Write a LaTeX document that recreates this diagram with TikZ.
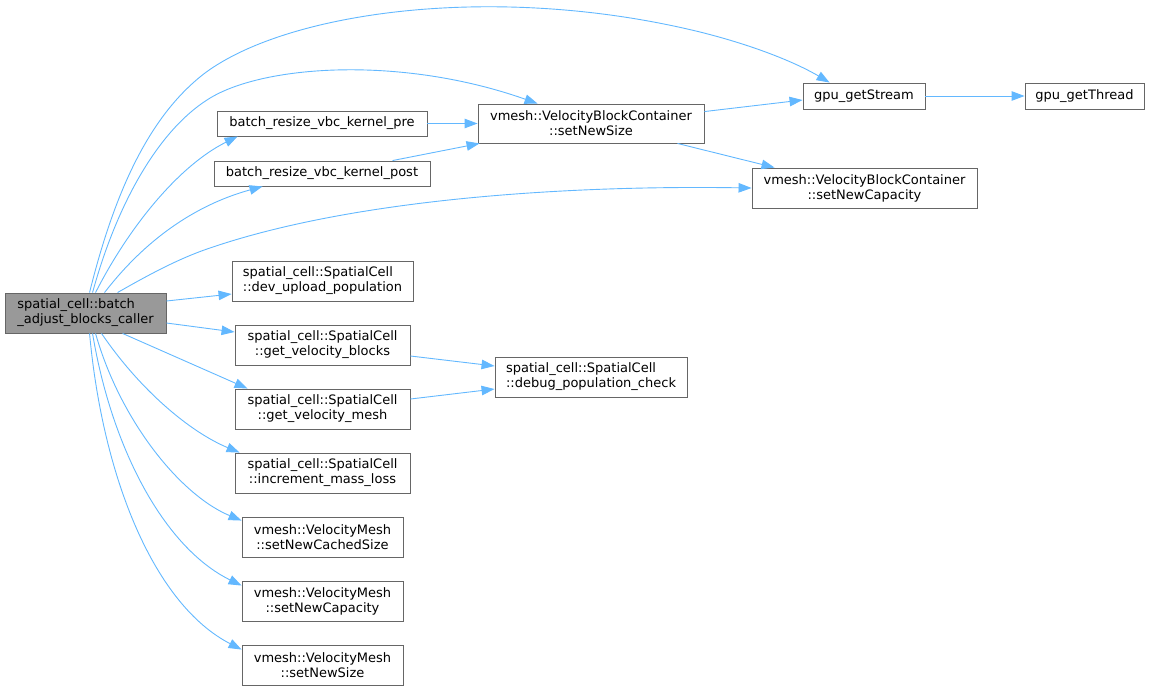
\documentclass[tikz,border=0pt]{standalone}
\usepackage{fontspec}
\setmainfont{DejaVu Sans}
\usetikzlibrary{arrows.meta}
\definecolor{edgeblue}{HTML}{63B8FF}
\definecolor{boxgray}{HTML}{666666}
\definecolor{mainfill}{HTML}{999999}
\tikzset{
  fn/.style={draw=boxgray, line width=0.9pt, fill=white, inner sep=0pt, align=center,
    font=\fontsize{13}{15}\selectfont, text=black},
  fnl/.style={fn, align=left},
  mainfn/.style={fnl, fill=mainfill},
  call/.style={draw=edgeblue, line width=0.9pt, -{Triangle[length=13pt,width=9.5pt]}, fill=none},
}
\begin{document}
\begin{tikzpicture}[x=1pt,y=-1pt]
\useasboundingbox (0,0) rectangle (1149,691);
% nodes
\node[mainfn, minimum width=161pt, minimum height=40pt] (main) at (85.5,313) {spatial\_cell::batch\\\_adjust\_blocks\_caller};
\node[fn, minimum width=210pt, minimum height=25pt] (pre) at (322,123.5) {batch\_resize\_vbc\_kernel\_pre};
\node[fn, minimum width=216pt, minimum height=25pt] (post) at (322,173.5) {batch\_resize\_vbc\_kernel\_post};
\node[fn, minimum width=226pt, minimum height=39pt] (vsize) at (591,123.5) {vmesh::VelocityBlockContainer\\::setNewSize};
\node[fn, minimum width=122pt, minimum height=26pt] (gs) at (864,96) {gpu\_getStream};
\node[fn, minimum width=119pt, minimum height=26pt] (gt) at (1084.5,96) {gpu\_getThread};
\node[fn, minimum width=225pt, minimum height=40pt] (vcap) at (864.5,188) {vmesh::VelocityBlockContainer\\::setNewCapacity};
\node[fnl, minimum width=181pt, minimum height=40pt] (dev) at (322.5,281) {spatial\_cell::SpatialCell\\::dev\_upload\_population};
\node[fn, minimum width=175pt, minimum height=40pt] (gvb) at (322.5,345) {spatial\_cell::SpatialCell\\::get\_velocity\_blocks};
\node[fnl, minimum width=192pt, minimum height=40pt] (dbg) at (591,377) {spatial\_cell::SpatialCell\\::debug\_population\_check};
\node[fn, minimum width=175pt, minimum height=40pt] (gvm) at (322.5,409) {spatial\_cell::SpatialCell\\::get\_velocity\_mesh};
\node[fn, minimum width=175pt, minimum height=40pt] (inc) at (322.5,473) {spatial\_cell::SpatialCell\\::increment\_mass\_loss};
\node[fn, minimum width=161pt, minimum height=40pt] (cached) at (322.5,537) {vmesh::VelocityMesh\\::setNewCachedSize};
\node[fn, minimum width=161pt, minimum height=40pt] (mcap) at (322.5,601) {vmesh::VelocityMesh\\::setNewCapacity};
\node[fn, minimum width=161pt, minimum height=40pt] (msize) at (322.5,665) {vmesh::VelocityMesh\\::setNewSize};
% curved edges from main (upwards)
\draw[call] ([xshift=85pt]main.north west) .. controls (115,190) and (150,115) .. (205,73)
  .. controls (290,10) and (500,-17) .. (700,32)
  .. controls (760,47) and (800,65) .. ([xshift=27pt]gs.north west);
\draw[call] ([xshift=88pt]main.north west) .. controls (118,200) and (160,130) .. (207,100)
  .. controls (260,65) and (400,55) .. ([xshift=60pt]vsize.north west);
\draw[call] ([xshift=91pt]main.north west) .. controls (130,225) and (180,165) .. ([xshift=21pt]pre.south west);
\draw[call] ([xshift=100pt]main.north west) .. controls (145,240) and (195,205) .. ([xshift=49pt]post.south west);
\draw[call] ([xshift=113pt]main.north west) .. controls (150,274) and (180,258) .. (210,248)
  .. controls (350,200) and (560,185) .. (vcap.west);
% straight edges from main
\draw[call] ([yshift=12pt]main.east) -- ([yshift=-13pt]dev.west);
\draw[call] ([yshift=-10pt]main.east) -- ([yshift=13pt]gvb.west);
\draw[call] ([xshift=118pt]main.south west) -- ([xshift=13pt]gvm.north west);
% curved edges from main (downwards)
\draw[call] ([xshift=97pt]main.south west) .. controls (140,390) and (190,432) .. ([xshift=5pt]inc.north west);
\draw[call] ([xshift=91pt]main.south west) .. controls (120,420) and (180,495) .. ([yshift=-4pt]cached.north west);
\draw[call] ([xshift=88pt]main.south west) .. controls (112,450) and (165,548) .. ([yshift=-5pt]mcap.north west);
\draw[call] ([xshift=85pt]main.south west) .. controls (103,480) and (155,605) .. ([yshift=-5pt]msize.north west);
% other edges
\draw[call] (pre.east) -- (vsize.west);
\draw[call] ([xshift=179pt]post.north west) -- ([xshift=2pt]vsize.south west);
\draw[call] ([yshift=-8pt]vsize.north east) -- ([yshift=-4pt]gs.west);
\draw[call] ([xshift=-27pt]vsize.south east) -- ([xshift=23pt]vcap.north west);
\draw[call] (gs.east) -- (gt.west);
\draw[call] ([yshift=-11pt]gvb.east) -- ([yshift=11pt]dbg.west);
\draw[call] ([yshift=10pt]gvm.east) -- ([yshift=-12pt]dbg.west);
\end{tikzpicture}
\end{document}
